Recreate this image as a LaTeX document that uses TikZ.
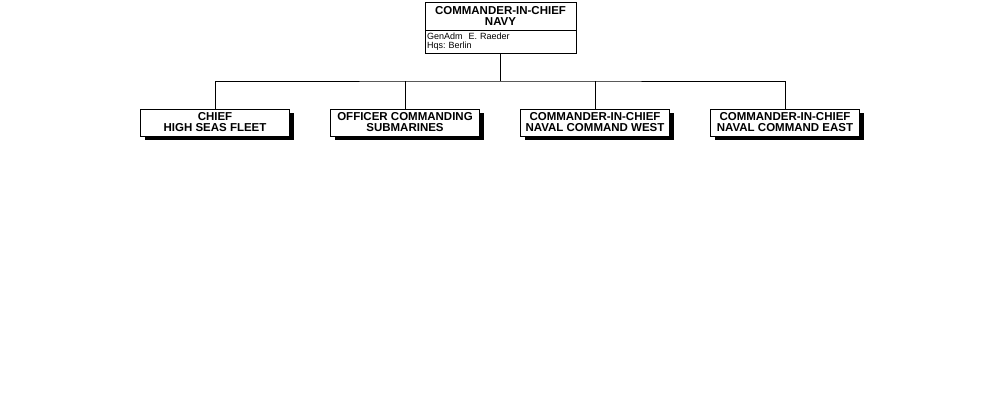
\documentclass[tikz,border=0pt]{standalone}
\usepackage{fontspec}
\setmainfont{Liberation Sans}
\usetikzlibrary{shadows}
\frenchspacing
\tikzset{
    headbox/.style={draw, fill=white, line width=1pt, inner sep=0pt,
        minimum width=151pt, minimum height=28pt, align=center,
        font=\fontsize{11.5}{11}\selectfont\bfseries},
    infobox/.style={draw, fill=white, line width=1pt, inner xsep=2pt, inner ysep=0pt,
        text width=147pt, minimum height=23pt, align=left,
        font=\fontsize{9}{8.5}\selectfont},
    unitbox/.style={draw, fill=white, line width=1pt, inner sep=0pt,
        minimum width=149pt, minimum height=27pt, align=center,
        font=\fontsize{11.5}{11}\selectfont\bfseries,
        general shadow={fill=black, shadow xshift=4pt, shadow yshift=-4pt}},
    link/.style={line width=1pt}
}
\begin{document}
\begin{tikzpicture}[x=1pt,y=-1pt]
        \useasboundingbox (0,0) rectangle (1000,400);
        \node[headbox] (navy) at (500.5,16) {COMMANDER-IN-CHIEF\\NAVY};
        \node[infobox] (navyinfo) at (500.5,41.5) {GenAdm\ \ E. Raeder\\Hqs: Berlin};
        \coordinate (bus) at (500.5,81);
        \node[unitbox] (fleet) at (215,122.5) {CHIEF\\HIGH SEAS FLEET};
        \node[unitbox] (subs) at (405,122.5) {OFFICER COMMANDING\\SUBMARINES};
        \node[unitbox] (west) at (595,122.5) {COMMANDER-IN-CHIEF\\NAVAL COMMAND WEST};
        \node[unitbox] (east) at (785,122.5) {COMMANDER-IN-CHIEF\\NAVAL COMMAND EAST};
        \draw[link] (navyinfo.south) -- (bus);
        \draw[link] (fleet.north) |- (bus) -| (east.north);
        \draw[link] (subs.north) -- (subs.north |- bus);
        \draw[link] (west.north) -- (west.north |- bus);
    \end{tikzpicture}
\end{document}
